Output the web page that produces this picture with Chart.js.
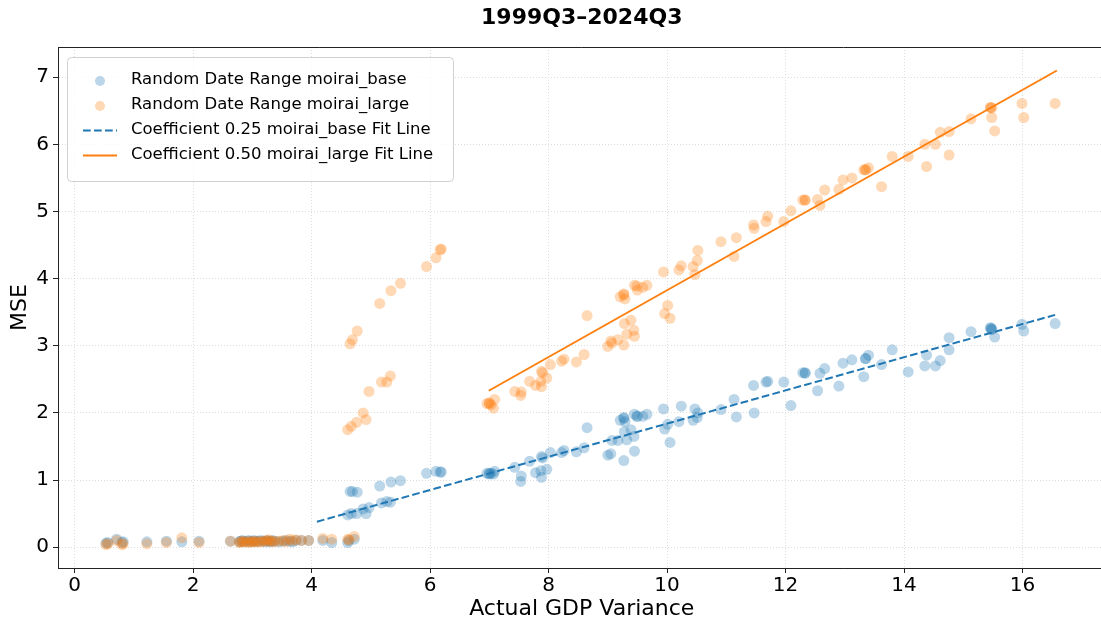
<!DOCTYPE html>
<html lang="en">
<head>
  <meta charset="UTF-8">
  <title>1999Q3–2024Q3</title>
  <script src="https://cdn.jsdelivr.net/npm/chart.js"></script>
  <style>
    html, body {
      margin: 0;
      padding: 0;
      background: #ffffff;
      overflow: hidden;
    }
    #wrap {
      position: absolute;
      left: 0;
      top: 0;
      width: 1111px;
      height: 624px;
    }
  </style>
</head>
<body>
  <div id="wrap"><canvas id="chart" width="1111" height="624"></canvas></div>

  <script>
    // Actual GDP variance (shared by both models)
    const gdpVariance = [
      0.53, 0.56, 0.71, 0.80, 0.82, 1.22, 1.55, 1.81, 2.10, 2.63,
      2.78, 2.80, 2.83, 2.86, 2.90, 2.94, 2.97, 3.00, 3.03, 3.06,
      3.10, 3.14, 3.18, 3.22, 3.25, 3.28, 3.31, 3.34, 3.38, 3.45,
      3.52, 3.57, 3.63, 3.68, 3.74, 3.83, 3.95, 4.19, 4.34, 4.61,
      4.63, 4.72,
      4.61, 4.65, 4.67, 4.69, 4.76, 4.77, 4.87, 4.92, 4.97, 5.15,
      5.18, 5.27, 5.33, 5.34, 5.50, 5.94, 6.10, 6.17, 6.19,
      6.96, 7.00, 7.00, 7.03, 7.07, 7.09, 7.43, 7.53, 7.54, 7.68,
      7.78, 7.87, 7.88, 7.88, 7.90, 7.97, 8.03, 8.22, 8.26, 8.47,
      8.60, 8.65, 9.00, 9.05, 9.07, 9.17, 9.21, 9.27, 9.27, 9.29,
      9.27, 9.28, 9.32, 9.39, 9.44, 9.45, 9.45, 9.49, 9.50, 9.59,
      9.66, 9.94, 9.96, 10.01, 10.05, 10.20, 10.24, 10.44, 10.47, 10.51,
      10.52, 10.91, 11.13, 11.17, 11.46, 11.47, 11.67, 11.70, 11.97, 12.09,
      12.29, 12.33, 12.33, 12.54, 12.58, 12.66, 12.90, 12.97, 13.12, 13.32,
      13.35, 13.35, 13.40, 13.62, 13.80, 14.07, 14.35, 14.38, 14.53, 14.61,
      14.76, 14.76, 15.13, 15.46, 15.46, 15.48, 15.48, 15.53, 15.99, 16.02,
      16.55
    ];

    // MSE, moirai_base
    const mseBase = [
      0.06, 0.07, 0.12, 0.07, 0.08, 0.08, 0.09, 0.08, 0.09, 0.09,
      0.08, 0.09, 0.10, 0.08, 0.09, 0.10, 0.08, 0.09, 0.10, 0.08,
      0.09, 0.10, 0.09, 0.08, 0.10, 0.09, 0.08, 0.10, 0.09, 0.08,
      0.09, 0.10, 0.09, 0.08, 0.10, 0.10, 0.10, 0.10, 0.07, 0.07,
      0.10, 0.12,
      0.48, 0.83, 0.50, 0.83, 0.50, 0.82, 0.57, 0.50, 0.59, 0.91,
      0.66, 0.68, 0.67, 0.97, 0.99, 1.10, 1.13, 1.12, 1.12,
      1.10, 1.09, 1.10, 1.10, 1.09, 1.13, 1.19, 0.98, 1.06, 1.28,
      1.11, 1.14, 1.04, 1.35, 1.33, 1.16, 1.41, 1.41, 1.44, 1.42,
      1.48, 1.78, 1.37, 1.39, 1.59, 1.59, 1.89, 1.92, 1.93, 1.87,
      1.29, 1.72, 1.60, 1.75, 1.65, 1.43, 1.98, 1.95, 1.95, 1.95,
      1.98, 2.06, 1.76, 1.83, 1.56, 1.87, 2.10, 1.89, 2.06, 1.93,
      2.00, 2.05, 2.20, 1.94, 2.41, 2.00, 2.46, 2.47, 2.46, 2.11,
      2.60, 2.59, 2.60, 2.33, 2.59, 2.66, 2.40, 2.74, 2.79, 2.54,
      2.81, 2.81, 2.86, 2.72, 2.94, 2.61, 2.70, 2.86, 2.70, 2.78,
      3.12, 2.94, 3.21, 3.27, 3.26, 3.24, 3.25, 3.13, 3.32, 3.22,
      3.33
    ];

    // MSE, moirai_large
    const mseLarge = [
      0.04, 0.05, 0.10, 0.04, 0.05, 0.05, 0.07, 0.14, 0.07, 0.09,
      0.07, 0.08, 0.08, 0.09, 0.08, 0.07, 0.09, 0.08, 0.08, 0.09,
      0.08, 0.08, 0.09, 0.10, 0.09, 0.11, 0.09, 0.08, 0.09, 0.09,
      0.10, 0.08, 0.12, 0.10, 0.11, 0.10, 0.10, 0.13, 0.12, 0.12,
      0.11, 0.16,
      1.75, 3.03, 1.80, 3.09, 1.86, 3.22, 2.00, 1.90, 2.32, 3.63,
      2.46, 2.46, 2.55, 3.82, 3.93, 4.18, 4.31, 4.43, 4.44,
      2.14, 2.15, 2.14, 2.12, 2.07, 2.20, 2.32, 2.26, 2.31, 2.47,
      2.41, 2.47, 2.39, 2.62, 2.60, 2.52, 2.72, 2.77, 2.80, 2.76,
      2.87, 3.45, 2.99, 3.07, 3.04, 3.09, 3.73, 3.77, 3.76, 3.70,
      3.01, 3.33, 3.17, 3.38, 3.23, 3.14, 3.90, 3.89, 3.83, 3.87,
      3.90, 4.10, 3.48, 3.60, 3.41, 4.13, 4.19, 4.18, 4.06, 4.27,
      4.42, 4.55, 4.33, 4.61, 4.80, 4.75, 4.85, 4.93, 4.85, 5.01,
      5.17, 5.17, 5.17, 5.18, 5.09, 5.32, 5.33, 5.47, 5.50, 5.62,
      5.62, 5.62, 5.65, 5.37, 5.82, 5.82, 6.00, 5.67, 6.00, 6.18,
      6.19, 5.84, 6.38, 6.55, 6.55, 6.54, 6.40, 6.20, 6.61, 6.40,
      6.61
    ];

    // Fit lines (end points)
    const baseFitX = [4.09, 16.55];
    const baseFitY = [0.38, 3.46];
    const largeFitX = [6.99, 16.58];
    const largeFitY = [2.33, 7.10];

    // Axis ticks
    const xTickValues = [0, 2, 4, 6, 8, 10, 12, 14, 16];
    const yTickValues = [0, 1, 2, 3, 4, 5, 6, 7];

    const labels = [
      "Random Date Range moirai_base",
      "Random Date Range moirai_large",
      "Coefficient 0.25 moirai_base Fit Line",
      "Coefficient 0.50 moirai_large Fit Line"
    ];

    const BLUE = "#1f77b4";
    const ORANGE = "#ff7f0e";
    const BLUE_A = "rgba(31,119,180,0.3)";
    const ORANGE_A = "rgba(255,127,14,0.3)";
    const FONT = "'DejaVu Sans', sans-serif";

    const toPoints = (xs, ys) => xs.map((x, i) => ({ x: x, y: ys[i] }));

    // frame on top / right + title + legend
    const decorations = {
      id: "decorations",
      beforeDatasetsDraw(chart) {
        const { ctx, chartArea: a } = chart;
        ctx.save();
        ctx.strokeStyle = "#222";
        ctx.lineWidth = 1;
        ctx.beginPath();
        ctx.moveTo(a.left, a.top + 0.5);
        ctx.lineTo(a.right, a.top + 0.5);
        ctx.moveTo(a.right - 0.5, a.top);
        ctx.lineTo(a.right - 0.5, a.bottom);
        ctx.stroke();
        ctx.restore();
      },
      afterDraw(chart) {
        const { ctx, chartArea: a } = chart;
        ctx.save();
        // title
        ctx.fillStyle = "#000";
        ctx.font = "bold 22px " + FONT;
        ctx.textAlign = "center";
        ctx.textBaseline = "middle";
        ctx.fillText("1999Q3–2024Q3", (a.left + a.right) / 2, 18);

        // legend
        const bx = 67, by = 57, bw = 386, bh = 124;
        ctx.beginPath();
        ctx.roundRect(bx + 0.5, by + 0.5, bw, bh, 4);
        ctx.fillStyle = "rgba(255,255,255,0.8)";
        ctx.fill();
        ctx.strokeStyle = "#d0d0d0";
        ctx.lineWidth = 1;
        ctx.stroke();

        const rows = [80, 105, 129.5, 154.5];
        ctx.font = "16.5px " + FONT;
        ctx.textAlign = "left";
        ctx.fillStyle = "#000";
        rows.forEach((ry, i) => {
          if (i === 0 || i === 1) {
            ctx.beginPath();
            ctx.arc(100, ry + 1, 5, 0, Math.PI * 2);
            ctx.fillStyle = i === 0 ? BLUE_A : ORANGE_A;
            ctx.fill();
          } else {
            ctx.beginPath();
            ctx.setLineDash(i === 2 ? [7.7, 3.3] : []);
            ctx.strokeStyle = i === 2 ? BLUE : ORANGE;
            ctx.lineWidth = 2;
            ctx.moveTo(83, ry + 1);
            ctx.lineTo(117, ry + 1);
            ctx.stroke();
            ctx.setLineDash([]);
          }
          ctx.fillStyle = "#000";
          ctx.fillText(labels[i], 131, ry);
        });
        ctx.restore();
      }
    };

    const gridOpts = {
      color: "#d4d4d4",
      lineWidth: 0.8,
      drawTicks: true,
      tickLength: 5,
      tickColor: "#222",
      tickBorderDash: [],
      tickWidth: 1
    };

    new Chart(document.getElementById("chart"), {
      type: "scatter",
      data: {
        datasets: [
          {
            label: labels[0],
            data: toPoints(gdpVariance, mseBase),
            backgroundColor: BLUE_A,
            borderWidth: 0,
            pointRadius: 5.5,
            pointHoverRadius: 5.5,
            order: 4
          },
          {
            label: labels[1],
            data: toPoints(gdpVariance, mseLarge),
            backgroundColor: ORANGE_A,
            borderWidth: 0,
            pointRadius: 5.5,
            pointHoverRadius: 5.5,
            order: 3
          },
          {
            label: labels[2],
            type: "line",
            data: toPoints(baseFitX, baseFitY),
            borderColor: BLUE,
            borderWidth: 2,
            borderDash: [7.7, 3.3],
            pointRadius: 0,
            fill: false,
            order: 2
          },
          {
            label: labels[3],
            type: "line",
            data: toPoints(largeFitX, largeFitY),
            borderColor: ORANGE,
            borderWidth: 2,
            pointRadius: 0,
            fill: false,
            order: 1
          }
        ]
      },
      options: {
        responsive: false,
        animation: false,
        devicePixelRatio: 1,
        layout: { padding: { top: 47, left: 0, right: 0, bottom: 0 } },
        plugins: {
          legend: { display: false },
          title: { display: false },
          tooltip: { enabled: false }
        },
        scales: {
          x: {
            type: "linear",
            min: -0.28,
            max: 17.4,
            afterBuildTicks: (s) => { s.ticks = xTickValues.map(v => ({ value: v })); },
            afterFit: (s) => { s.height = 56; },
            grid: gridOpts,
            border: { display: true, color: "#222", width: 1, dash: [1, 2] },
            ticks: {
              color: "#000",
              font: { family: FONT, size: 20 },
              padding: 1,
              maxRotation: 0
            },
            title: {
              display: true,
              text: "Actual GDP Variance",
              color: "#000",
              font: { family: FONT, size: 22 },
              padding: { top: 0, bottom: 2 }
            }
          },
          y: {
            type: "linear",
            min: -0.31,
            max: 7.45,
            afterBuildTicks: (s) => { s.ticks = yTickValues.map(v => ({ value: v })); },
            afterFit: (s) => { s.width = 58; },
            grid: gridOpts,
            border: { display: true, color: "#222", width: 1, dash: [1, 2] },
            ticks: {
              color: "#000",
              font: { family: FONT, size: 20 },
              padding: 4
            },
            title: {
              display: true,
              text: "MSE",
              color: "#000",
              font: { family: FONT, size: 22 },
              padding: { top: 7, bottom: 0 }
            }
          }
        }
      },
      plugins: [decorations]
    });
  </script>
</body>
</html>
